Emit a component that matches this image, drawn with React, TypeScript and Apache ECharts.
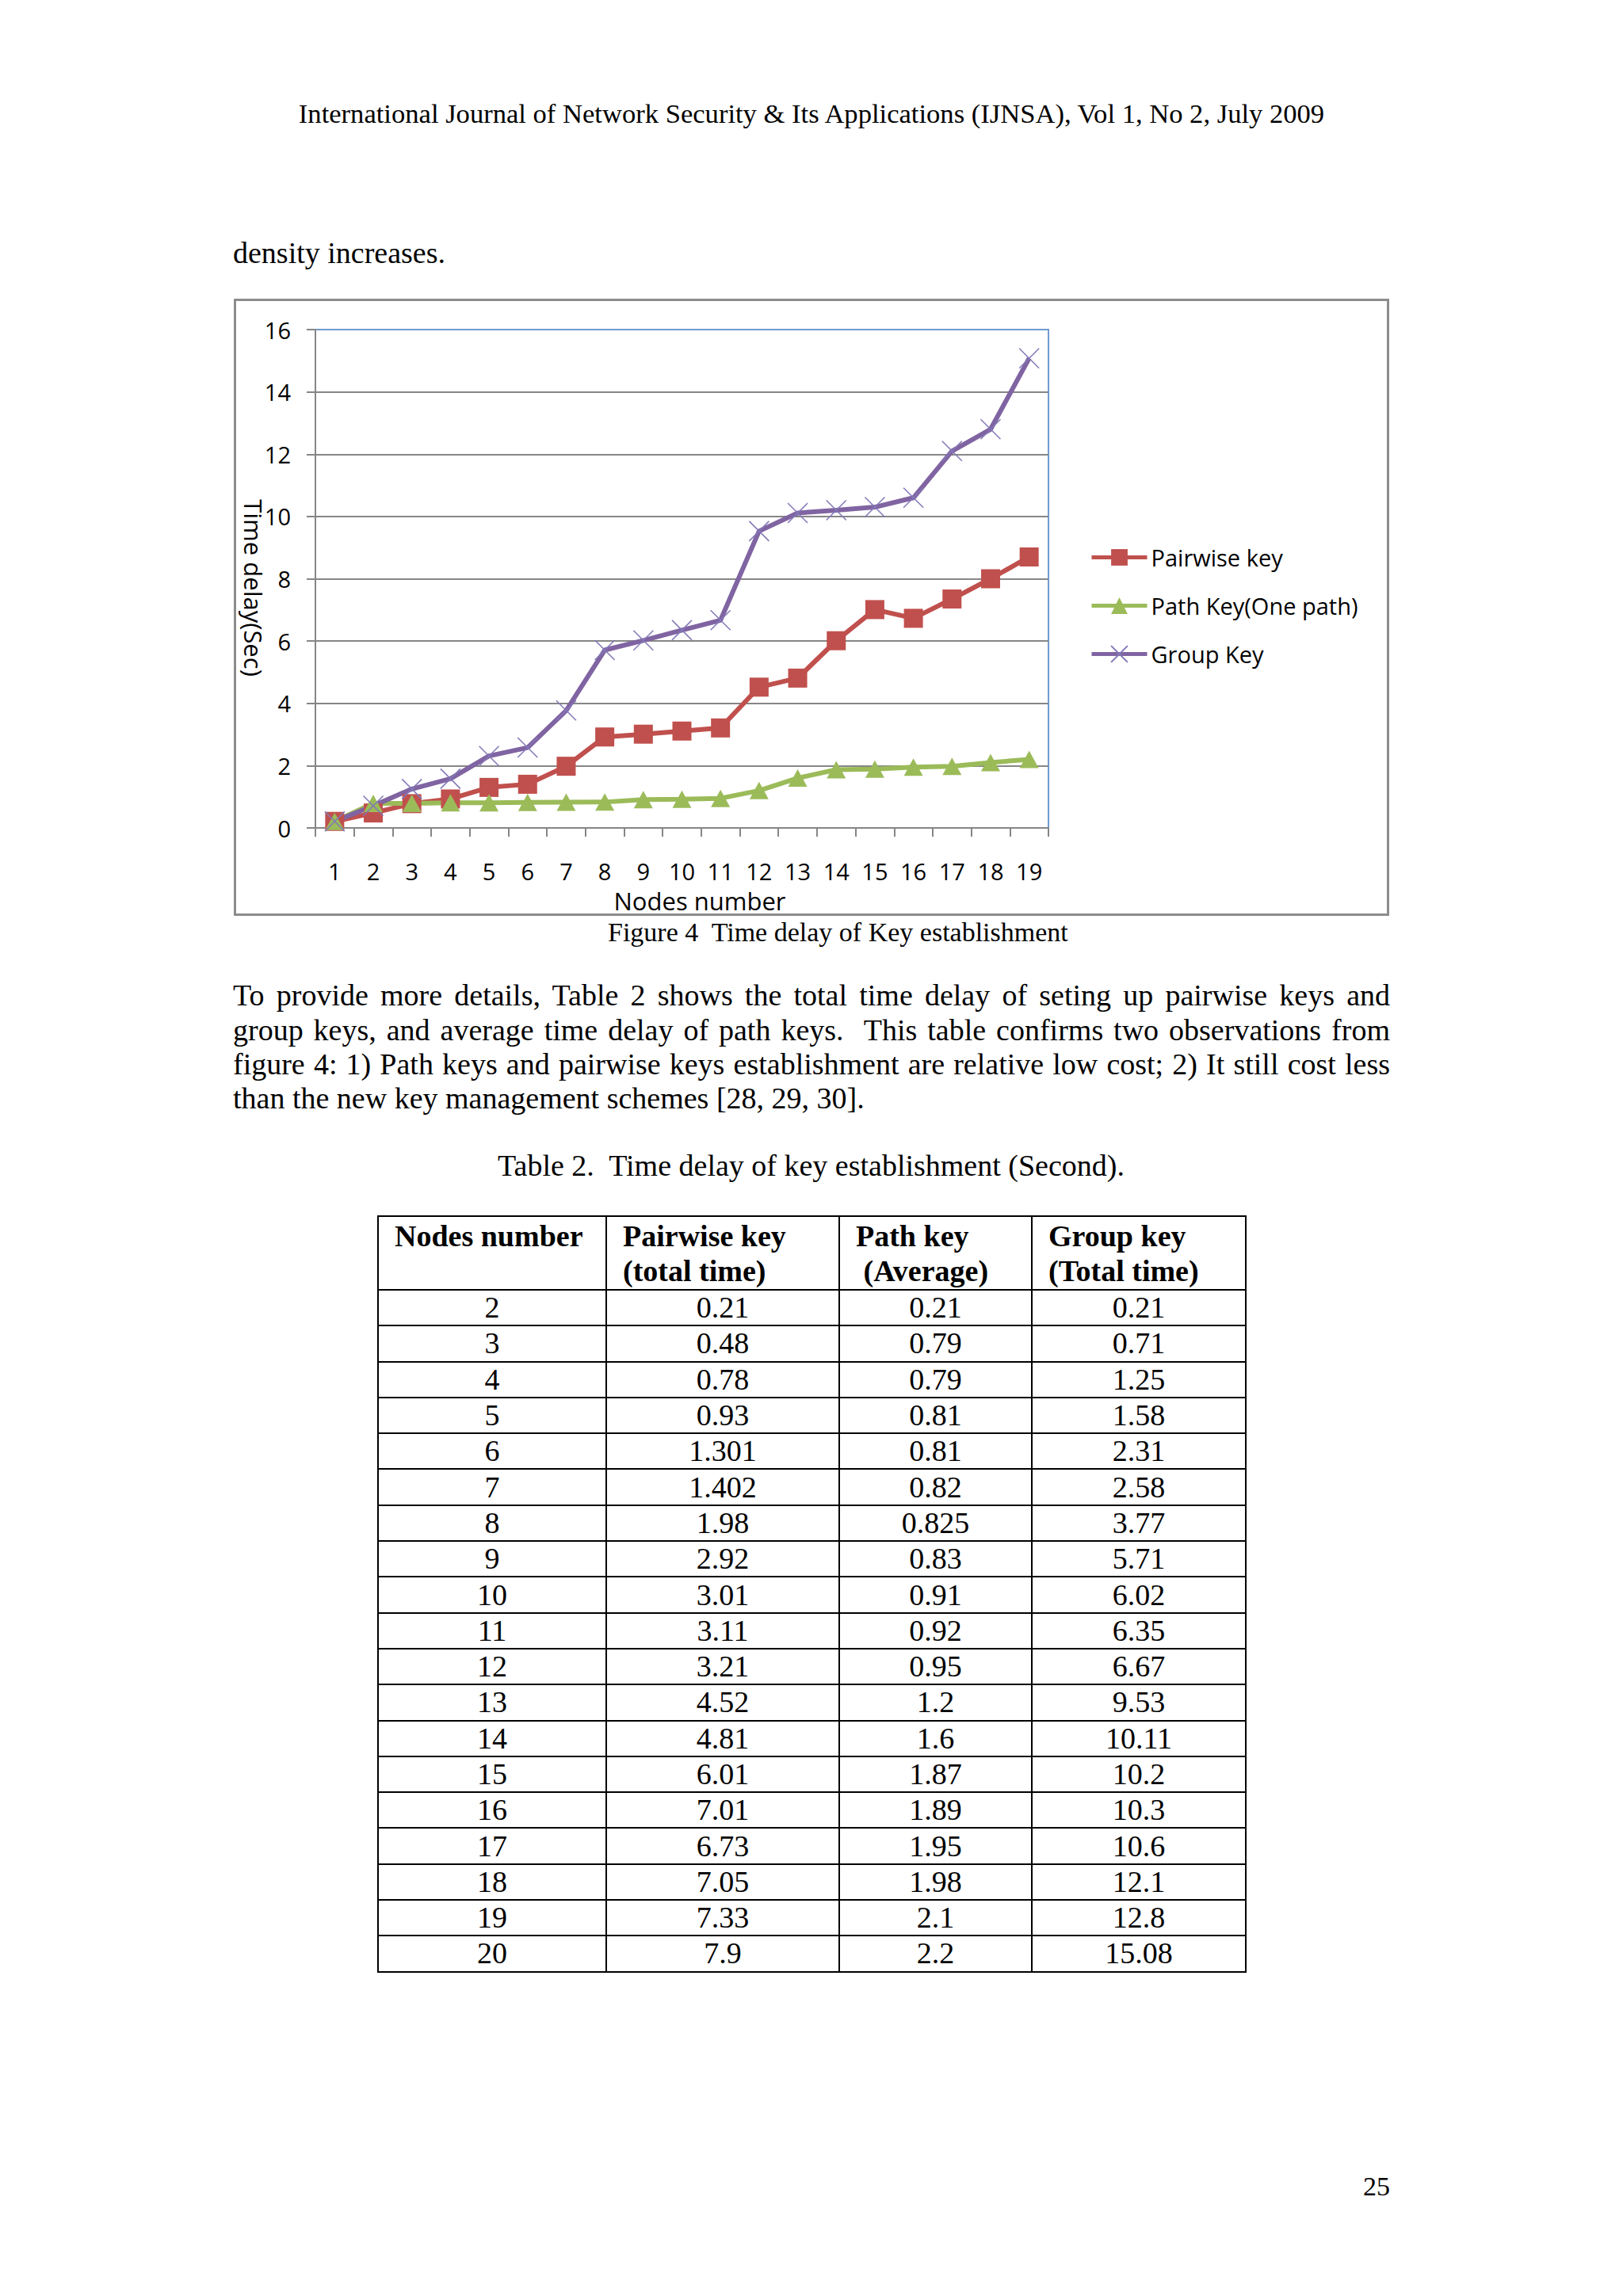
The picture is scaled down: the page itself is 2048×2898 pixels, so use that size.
import React, { useEffect, useRef } from "react";
import * as echarts from "echarts";

const categories = ["1", "2", "3", "4", "5", "6", "7", "8", "9", "10", "11", "12", "13", "14", "15", "16", "17", "18", "19"];
const pairwiseKey = [0.21, 0.48, 0.78, 0.93, 1.301, 1.402, 1.98, 2.92, 3.01, 3.11, 3.21, 4.52, 4.81, 6.01, 7.01, 6.73, 7.35, 8.0, 8.7];
const pathKey = [0.21, 0.79, 0.79, 0.81, 0.81, 0.82, 0.825, 0.83, 0.91, 0.92, 0.95, 1.2, 1.6, 1.87, 1.89, 1.95, 1.98, 2.1, 2.2];
const groupKey = [0.21, 0.71, 1.25, 1.58, 2.31, 2.58, 3.77, 5.71, 6.02, 6.35, 6.67, 9.53, 10.11, 10.2, 10.3, 10.6, 12.1, 12.8, 15.08];
const seriesNames = ["Pairwise key", "Path Key(One path)", "Group Key"];
const yMin = 0;
const yMax = 16;
const yInterval = 2;

const tableHeader = [
  ["Nodes number", ""],
  ["Pairwise key", "(total time)"],
  ["Path key", "\u00a0(Average)"],
  ["Group key", "(Total time)"],
];
const tableNodes = ["2", "3", "4", "5", "6", "7", "8", "9", "10", "11", "12", "13", "14", "15", "16", "17", "18", "19", "20"];
const tablePairwise = ["0.21", "0.48", "0.78", "0.93", "1.301", "1.402", "1.98", "2.92", "3.01", "3.11", "3.21", "4.52", "4.81", "6.01", "7.01", "6.73", "7.05", "7.33", "7.9"];
const tablePath = ["0.21", "0.79", "0.79", "0.81", "0.81", "0.82", "0.825", "0.83", "0.91", "0.92", "0.95", "1.2", "1.6", "1.87", "1.89", "1.95", "1.98", "2.1", "2.2"];
const tableGroup = ["0.21", "0.71", "1.25", "1.58", "2.31", "2.58", "3.77", "5.71", "6.02", "6.35", "6.67", "9.53", "10.11", "10.2", "10.3", "10.6", "12.1", "12.8", "15.08"];

const paragraphLines = [
  "To provide more details, Table 2 shows the total time delay of seting up pairwise keys and",
  "group keys, and average time delay of path keys.  This table confirms two observations from",
  "figure 4: 1) Path keys and pairwise keys establishment are relative low cost; 2) It still cost less",
  "than the new key management schemes [28, 29, 30].",
];

const SERIF = "'Liberation Serif', 'Times New Roman', serif";
const SANS = "'Open Sans', 'Noto Sans', sans-serif";

const RED = "#C0504D";
const GREEN = "#9BBB59";
const PURPLE = "#8064A2";
const GRID_GRAY = "#868686";
const BLUE = "#6F9BD1";

function TextLine(props: {
  baseline: number;
  left: number;
  width: number;
  size: number;
  align?: string;
  justify?: boolean;
  children: React.ReactNode;
}) {
  const { baseline, left, width, size, align, justify, children } = props;
  const lh = size * 1.15;
  const top = baseline - (lh - 1.107 * size) / 2 - 0.891 * size;
  return (
    <div
      style={{
        position: "absolute",
        left,
        top,
        width,
        fontFamily: SERIF,
        fontSize: size,
        lineHeight: `${lh}px`,
        color: "#000",
        whiteSpace: "pre",
        textAlign: (justify ? "justify" : align || "left") as any,
        textAlignLast: (justify ? "justify" : align || "left") as any,
      }}
    >
      {children}
    </div>
  );
}

function Chart() {
  const ref = useRef<HTMLDivElement>(null);
  useEffect(() => {
    if (!ref.current) return;
    const chart = echarts.init(ref.current, null, { renderer: "svg" });
    const splitColors: string[] = [];
    for (let v = yMin; v <= yMax; v += yInterval) splitColors.push(v === yMax ? BLUE : GRID_GRAY);
    chart.setOption({
      animation: false,
      backgroundColor: "transparent",
      grid: {
        left: 103,
        top: 39,
        width: 925,
        height: 629,
        show: true,
        borderColor: BLUE,
        borderWidth: 2,
        backgroundColor: "transparent",
      },
      legend: {
        orient: "vertical",
        left: 1075,
        top: 307,
        itemWidth: 70,
        itemHeight: 26,
        itemGap: 32,
        lineStyle: { width: 5 },
        textStyle: { fontSize: 29, fontFamily: SANS, color: "#000", lineHeight: 26 },
        data: seriesNames.map((n) => ({ name: n, lineStyle: { width: 5 } })),
      },
      xAxis: {
        type: "category",
        data: categories,
        boundaryGap: true,
        axisLine: { show: true, lineStyle: { color: GRID_GRAY, width: 2 } },
        axisTick: { show: true, length: 11, lineStyle: { color: GRID_GRAY, width: 2 } },
        axisLabel: { interval: 0, margin: 40, fontSize: 29, fontFamily: SANS, color: "#000" },
        splitLine: { show: false },
      },
      yAxis: {
        type: "value",
        min: yMin,
        max: yMax,
        interval: yInterval,
        axisLine: { show: true, lineStyle: { color: GRID_GRAY, width: 2 } },
        axisTick: { show: true, length: 11, lineStyle: { color: GRID_GRAY, width: 2 } },
        axisLabel: { margin: 31, fontSize: 29, fontFamily: SANS, color: "#000" },
        splitLine: { show: true, lineStyle: { color: splitColors, width: 2 } },
      },
      graphic: [
        {
          type: "text",
          x: 588,
          y: 760,
          style: {
            text: "Nodes number",
            fontSize: 31,
            fontFamily: SANS,
            fill: "#000",
            align: "center",
            verticalAlign: "middle",
          },
        },
        {
          type: "text",
          x: 25,
          y: 365,
          rotation: -Math.PI / 2,
          style: {
            text: "Time delay(Sec)",
            fontSize: 31,
            fontFamily: SANS,
            fill: "#000",
            align: "center",
            verticalAlign: "middle",
          },
        },
      ],
      series: [
        {
          name: seriesNames[0],
          type: "line",
          data: pairwiseKey,
          symbol: "rect",
          symbolSize: 24,
          showAllSymbol: true,
          lineStyle: { color: RED, width: 6 },
          itemStyle: { color: RED },
        },
        {
          name: seriesNames[1],
          type: "line",
          data: pathKey,
          symbol: "triangle",
          symbolSize: [24, 22],
          showAllSymbol: true,
          lineStyle: { color: GREEN, width: 6 },
          itemStyle: { color: GREEN },
        },
        {
          name: seriesNames[2],
          type: "line",
          data: groupKey,
          symbol: "path://M0,0L20,20M20,0L0,20",
          symbolSize: 25,
          showAllSymbol: true,
          lineStyle: { color: PURPLE, width: 6 },
          itemStyle: { color: "rgba(0,0,0,0)", borderColor: "#8278B8", borderWidth: 1.5 },
        },
      ],
    });
    return () => chart.dispose();
  }, []);
  return <div ref={ref} style={{ position: "absolute", left: 295, top: 377, width: 1458, height: 800 }} />;
}

export default function App() {
  useEffect(() => {
    document.body.style.margin = "0";
  }, []);
  const colWidths = [288, 294, 243, 270];
  const rows = tableNodes.map((n, i) => [n, tablePairwise[i], tablePath[i], tableGroup[i]]);
  const cellBorder = "2px solid #000";
  return (
    <div
      style={{
        position: "absolute",
        left: 0,
        top: 0,
        width: 2048,
        height: 2898,
        background: "#fff",
        overflow: "hidden",
      }}
    >
      <TextLine baseline={156} left={0} width={2048} size={34.6} align="center">
        International Journal of Network Security &amp; Its Applications (IJNSA), Vol 1, No 2, July 2009
      </TextLine>
      <TextLine baseline={333} left={294} width={1460} size={38}>
        density increases.
      </TextLine>

      <Chart />
      <div
        style={{
          position: "absolute",
          left: 295,
          top: 377,
          width: 1458,
          height: 779,
          border: "3px solid #8C8C8C",
          boxSizing: "border-box",
          pointerEvents: "none",
        }}
      />

      <TextLine baseline={1188} left={767} width={700} size={34}>
        {"Figure 4  Time delay of Key establishment"}
      </TextLine>

      {paragraphLines.map((t, i) => (
        <TextLine key={i} baseline={1270 + i * 43.3} left={294} width={1460} size={38} justify={i < paragraphLines.length - 1}>
          {t}
        </TextLine>
      ))}

      <TextLine baseline={1485} left={628} width={900} size={38}>
        {"Table 2.  Time delay of key establishment (Second)."}
      </TextLine>

      <table
        style={{
          position: "absolute",
          left: 476,
          top: 1534,
          width: colWidths.reduce((a, b) => a + b, 0),
          borderCollapse: "collapse",
          tableLayout: "fixed",
          fontFamily: SERIF,
          fontSize: 38,
          color: "#000",
        }}
      >
        <colgroup>
          {colWidths.map((w, i) => (
            <col key={i} style={{ width: w }} />
          ))}
        </colgroup>
        <tbody>
          <tr style={{ height: 93 }}>
            {tableHeader.map((h, i) => (
              <td
                key={i}
                style={{
                  border: cellBorder,
                  padding: "2px 0 0 20px",
                  verticalAlign: "top",
                  textAlign: "left",
                  fontWeight: "bold",
                  lineHeight: "44px",
                  whiteSpace: "pre",
                }}
              >
                {h[0]}
                {h[1] ? <br /> : null}
                {h[1]}
              </td>
            ))}
          </tr>
          {rows.map((r, ri) => (
            <tr key={ri} style={{ height: 45.3 }}>
              {r.map((c, ci) => (
                <td
                  key={ci}
                  style={{
                    border: cellBorder,
                    padding: 0,
                    textAlign: "center",
                    verticalAlign: "middle",
                    lineHeight: "41px",
                  }}
                >
                  {c}
                </td>
              ))}
            </tr>
          ))}
        </tbody>
      </table>

      <TextLine baseline={2771} left={1654} width={100} size={34} align="right">
        25
      </TextLine>
    </div>
  );
}
